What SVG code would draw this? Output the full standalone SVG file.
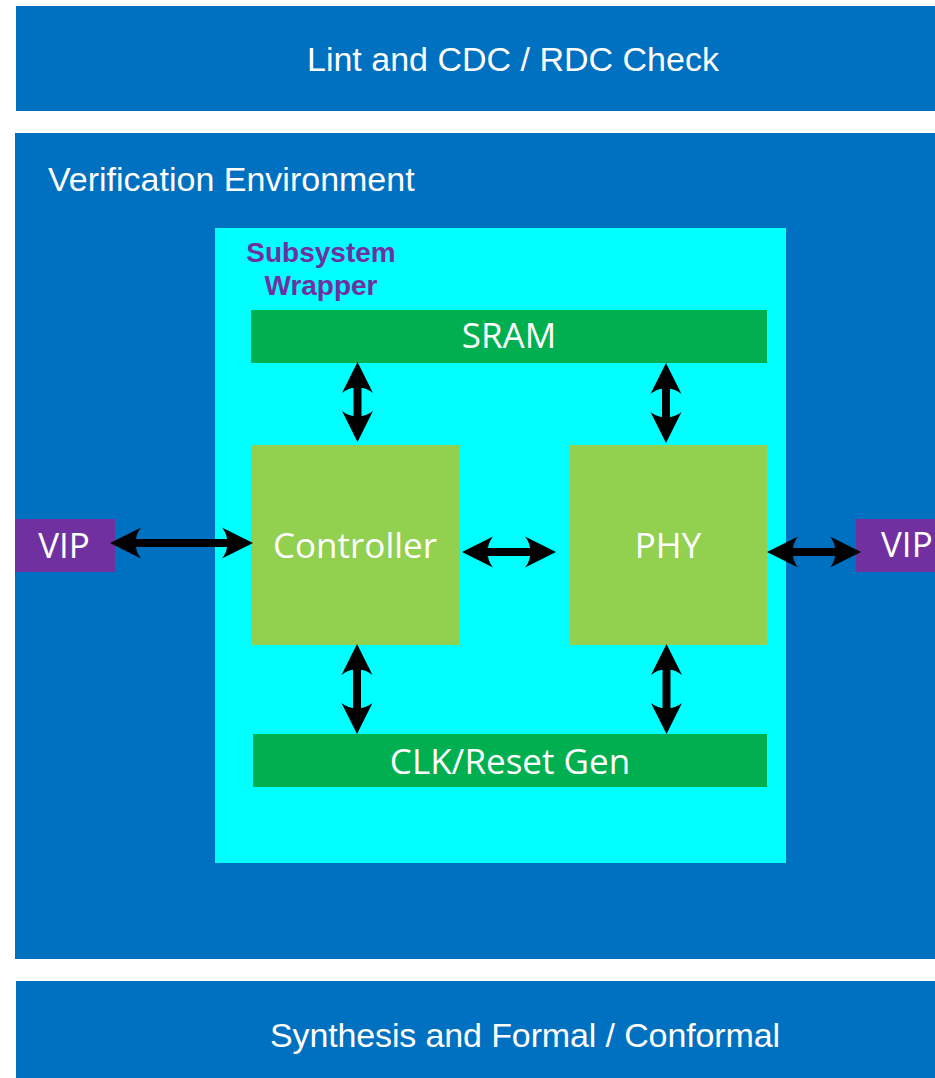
<svg xmlns="http://www.w3.org/2000/svg" width="935" height="1078" viewBox="0 0 935 1078">
<style>
.band{fill:#0070C0}
.band-t{font-family:"Liberation Sans",Arial,sans-serif;font-size:34px;fill:#FFFFFF}
.blk-t{font-family:"Open Sans","DejaVu Sans",sans-serif;font-size:35px;fill:#FFFFFF;text-anchor:middle}
.bar{fill:#00B050}
.core{fill:#92D050}
.vip{fill:#7030A0}
.conn line{stroke:#000000;stroke-width:8;marker-start:url(#ah);marker-end:url(#ah)}
</style>
<defs>
<marker id="ah" markerUnits="userSpaceOnUse" orient="auto-start-reverse" refX="-25" refY="0" markerWidth="1" markerHeight="1" overflow="visible">
<path d="M0,0 L-31,-15.5 Q-25,-8 -26,0 Q-25,8 -31,15.5 Z" fill="#000000"/>
</marker>
</defs>
<rect width="935" height="1078" fill="#FFFFFF"/>
<g id="lint">
<rect class="band" x="16" y="6" width="919" height="105"/>
<text class="band-t" x="307" y="71">Lint and CDC / RDC Check</text>
</g>
<g id="verif-env">
<rect class="band" x="15" y="133" width="920" height="826"/>
<text class="band-t" x="48" y="191">Verification Environment</text>
</g>
<g id="synth">
<rect class="band" x="16" y="981" width="919" height="97"/>
<text class="band-t" x="270" y="1047" textLength="510" lengthAdjust="spacing">Synthesis and Formal / Conformal</text>
</g>
<g id="wrapper">
<rect x="215" y="228" width="571" height="635" fill="#00FFFF"/>
<text font-family="'Liberation Sans',Arial,sans-serif" font-size="28" font-weight="bold" fill="#7030A0" text-anchor="middle"><tspan x="321" y="262">Subsystem</tspan><tspan x="321" y="295">Wrapper</tspan></text>
</g>
<g id="sram">
<rect class="bar" x="251" y="310" width="516" height="53"/>
<text class="blk-t" x="509" y="348">SRAM</text>
</g>
<g id="controller">
<rect class="core" x="251" y="445" width="209" height="200"/>
<text class="blk-t" x="355" y="558">Controller</text>
</g>
<g id="phy">
<rect class="core" x="569" y="445" width="198" height="200"/>
<text class="blk-t" x="668" y="558">PHY</text>
</g>
<g id="clkgen">
<rect class="bar" x="253" y="734" width="514" height="53"/>
<text class="blk-t" x="510" y="774">CLK/Reset Gen</text>
</g>
<g id="vip-left">
<rect class="vip" x="15" y="519" width="100" height="53"/>
<text class="blk-t" x="64" y="558">VIP</text>
</g>
<g id="vip-right">
<rect class="vip" x="856" y="519" width="79" height="53"/>
<text class="blk-t" x="881" y="557" style="text-anchor:start">VIP</text>
</g>
<g id="connectors" class="conn">
<line x1="135" y1="543" x2="228" y2="543"/>
<line x1="487" y1="552" x2="531" y2="552"/>
<line x1="792" y1="552" x2="836" y2="552"/>
<line x1="357.5" y1="387" x2="357.5" y2="417"/>
<line x1="666" y1="388" x2="666" y2="418"/>
<line x1="357" y1="669" x2="357" y2="709"/>
<line x1="666.5" y1="669" x2="666.5" y2="709"/>
</g>
</svg>
